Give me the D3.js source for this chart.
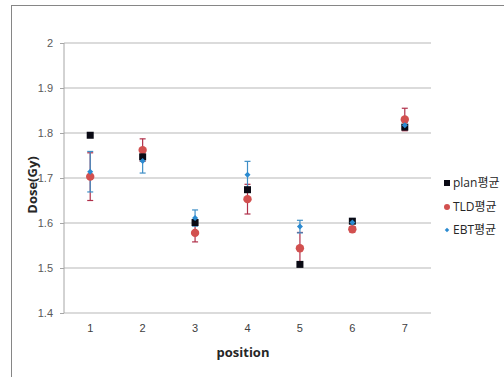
<!DOCTYPE html>
<html>
<head>
<meta charset="utf-8">
<script src="https://cdn.jsdelivr.net/npm/d3@7"></script>
<style>
  body { margin: 0; background: #fff; }
  svg { display: block; font-family: "Open Sans", "Noto Sans CJK KR", sans-serif; }
</style>
</head>
<body>
<div id="chart"></div>
<script>
const positions = ["1", "2", "3", "4", "5", "6", "7"];
const planValues = [1.795, 1.747, 1.601, 1.674, 1.508, 1.604, 1.813];
const tldValues = [1.703, 1.762, 1.578, 1.653, 1.544, 1.586, 1.830];
const tldErrors = [0.053, 0.025, 0.020, 0.033, 0.035, 0.006, 0.025];
const ebtValues = [1.714, 1.738, 1.611, 1.707, 1.592, 1.601, 1.817];
const ebtErrors = [0.045, 0.027, 0.018, 0.030, 0.014, 0.009, 0.007];
const yTicks = [1.4, 1.5, 1.6, 1.7, 1.8, 1.9, 2];
const legendLabels = ["plan평균", "TLD평균", "EBT평균"];

const width = 504, height = 377;
const margin = { top: 43, right: 73, bottom: 64, left: 64 };
const plotW = width - margin.left - margin.right;
const plotH = height - margin.top - margin.bottom;

const svg = d3.select("#chart").append("svg")
  .attr("width", width)
  .attr("height", height);

// outer chart border (cropped on right and bottom)
svg.append("rect")
  .attr("x", 11.5).attr("y", 5.5)
  .attr("width", 520).attr("height", 400)
  .attr("fill", "none")
  .attr("stroke", "#868686");

const g = svg.append("g")
  .attr("transform", "translate(" + margin.left + "," + margin.top + ")");

const x = d3.scaleBand().domain(positions).range([0, plotW]);
const y = d3.scaleLinear().domain([1.4, 2]).range([plotH, 0]);
const cx = i => x(positions[i]) + x.bandwidth() / 2;

// gridlines
g.append("g")
  .selectAll("line")
  .data(yTicks)
  .enter().append("line")
  .attr("x1", 0).attr("x2", plotW)
  .attr("y1", d => y(d)).attr("y2", d => y(d))
  .attr("stroke", "#b8b8b8")
  .attr("stroke-width", 1.2);

// y axis
g.append("g")
  .call(d3.axisLeft(y).tickValues(yTicks).tickSize(4).tickPadding(7).tickFormat(d3.format("")))
  .call(a => a.select(".domain").attr("stroke", "#a6a6a6").attr("d", "M0,0V" + plotH))
  .call(a => a.selectAll(".tick line").attr("stroke", "#a6a6a6"))
  .call(a => a.selectAll("text").attr("fill", "#595959").attr("font-size", "11px"));

// x axis
g.append("g")
  .attr("transform", "translate(0," + plotH + ")")
  .call(d3.axisBottom(x).tickSize(0).tickPadding(11))
  .call(a => a.select(".domain").remove())
  .call(a => a.selectAll("text").attr("fill", "#404040").attr("font-size", "11px"));

// axis titles
svg.append("text")
  .attr("transform", "translate(37,185) rotate(-90)")
  .attr("text-anchor", "middle")
  .attr("font-size", "13px")
  .attr("font-weight", "bold")
  .attr("fill", "#262626")
  .text("Dose(Gy)");

svg.append("text")
  .attr("x", 243).attr("y", 357)
  .attr("text-anchor", "middle")
  .attr("font-size", "13px")
  .attr("font-weight", "bold")
  .attr("fill", "#262626")
  .text("position");

// error bars
function errorBars(vals, errs, color) {
  const eb = g.append("g").attr("stroke", color).attr("stroke-width", 1.2);
  vals.forEach((v, i) => {
    const top = y(v + errs[i]), bot = y(v - errs[i]);
    eb.append("line").attr("x1", cx(i)).attr("x2", cx(i)).attr("y1", top).attr("y2", bot);
    eb.append("line").attr("x1", cx(i) - 3).attr("x2", cx(i) + 3).attr("y1", top).attr("y2", top);
    eb.append("line").attr("x1", cx(i) - 3).attr("x2", cx(i) + 3).attr("y1", bot).attr("y2", bot);
  });
}
errorBars(tldValues, tldErrors, "#b0304a");
errorBars(ebtValues, ebtErrors, "#3f8fc6");

// markers
g.append("g").selectAll("circle")
  .data(tldValues)
  .enter().append("circle")
  .attr("cx", (d, i) => cx(i))
  .attr("cy", d => y(d))
  .attr("r", 4.2)
  .attr("fill", "#d2504f");

g.append("g").selectAll("rect")
  .data(planValues)
  .enter().append("rect")
  .attr("x", (d, i) => cx(i) - 3.5)
  .attr("y", d => y(d) - 3.5)
  .attr("width", 7).attr("height", 7)
  .attr("fill", "#0a0a14");

g.append("g").selectAll("path")
  .data(ebtValues)
  .enter().append("path")
  .attr("d", d3.symbol().type(d3.symbolSquare).size(18))
  .attr("transform", (d, i) => "translate(" + cx(i) + "," + y(d) + ") rotate(45)")
  .attr("fill", "#2a8ad0");

// legend
const legend = svg.append("g").attr("transform", "translate(447,0)");
const ly = [183, 207, 230];
legend.append("rect").attr("x", -3).attr("y", ly[0] - 3).attr("width", 6).attr("height", 6).attr("fill", "#0a0a14");
legend.append("circle").attr("cx", 0).attr("cy", ly[1]).attr("r", 3).attr("fill", "#d2504f");
legend.append("path").attr("d", d3.symbol().type(d3.symbolSquare).size(10))
  .attr("transform", "translate(0," + ly[2] + ") rotate(45)").attr("fill", "#2a8ad0");
legend.selectAll("text")
  .data(legendLabels)
  .enter().append("text")
  .attr("x", 6)
  .attr("y", (d, i) => ly[i])
  .attr("dy", "0.35em")
  .attr("font-size", "12px")
  .attr("fill", "#262626")
  .text(d => d);
</script>
</body>
</html>
